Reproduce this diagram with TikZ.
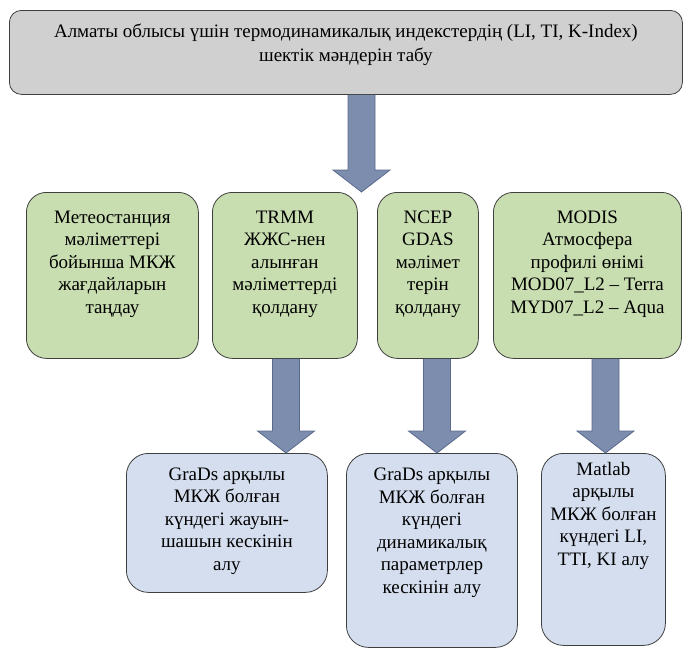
\documentclass[tikz,border=0pt]{standalone}
\usepackage{fontspec}
\setmainfont{Liberation Serif}
\usetikzlibrary{calc}
\definecolor{boxgray}{HTML}{D0D0D0}
\definecolor{boxgreen}{HTML}{C8DDB0}
\definecolor{boxblue}{HTML}{D4DEEF}
\definecolor{arrfill}{HTML}{7D8DAD}
\definecolor{arrline}{HTML}{5A6A8C}
\definecolor{edgecol}{HTML}{3F3F3F}
\newcommand\boxtext[4]{\parbox[t][#2pt][t]{#1pt}{\vspace*{#3pt}\centering\strut #4}}
\newcommand\blockarrow[3]{%
  \filldraw[blockarr] ($(#1|-#2)+(-13.5,0)$) -- ($(#1|-#3)+(-13.5,-22)$) -- ++(-15,0)
    -- (#1|-#3) -- ($(#1|-#3)+(28.5,-22)$) -- ++(-15,0) -- ($(#1|-#2)+(13.5,0)$);}
\tikzset{
  box/.style={draw=edgecol, line width=0.8pt, inner sep=0pt, anchor=north west,
              font=\fontsize{19}{22.5}\selectfont},
  graybox/.style={box, fill=boxgray, rounded corners=12pt},
  greenbox/.style={box, fill=boxgreen, rounded corners=20pt},
  bluebox/.style={box, fill=boxblue, rounded corners=22pt},
  blockarr/.style={fill=arrfill, draw=arrline, line width=0.8pt, line join=miter}
}
\begin{document}
\begin{tikzpicture}[x=1pt,y=-1pt]
\useasboundingbox (0,0) rectangle (683,648);
\node[graybox] (top) at (9,10) {\boxtext{673}{84}{11.25}{Алматы облысы үшін термодинамикалық индекстердің (LI, TI, K-Index)\\[2pt]шектік мәндерін табу}};
\node[greenbox] (g1) at (26,192) {\boxtext{172}{166}{15.25}{Метеостанция\\мәліметтері\\бойынша МКЖ\\жағдайларын\\таңдау}};
\node[greenbox] (g2) at (212,192) {\boxtext{145}{166}{15.25}{TRMM\\ЖЖС-нен\\алынған\\мәліметтерді\\қолдану}};
\node[greenbox] (g3) at (377,192) {\boxtext{101}{166}{15.25}{NCEP\\GDAS\\мәлімет\\терін\\қолдану}};
\node[greenbox] (g4) at (493,192) {\boxtext{188}{166}{15.25}{MODIS\\Атмосфера\\профилі өнімі\\MOD07\_L2 – Terra\\MYD07\_L2 – Aqua}};
\node[bluebox] (b1) at (126,453) {\boxtext{201}{139}{11.25}{GraDs арқылы\\МКЖ болған\\күндегі жауын-\\шашын кескінін\\алу}};
\node[bluebox] (b2) at (346,453) {\boxtext{171}{194}{11.75}{GraDs арқылы\\МКЖ болған\\күндегі\\динамикалық\\параметрлер\\кескінін алу}};
\node[bluebox] (b3) at (541,453) {\boxtext{124}{192}{6.25}{Matlab\\арқылы\\МКЖ болған\\күндегі LI,\\TTI, KI алу}};
\coordinate (a1) at (361.5,0);
\coordinate (a2) at (286,0);
\coordinate (a3) at (437,0);
\coordinate (a4) at (605.5,0);
\blockarrow{a1}{top.south}{g2.north}
\blockarrow{a2}{g2.south}{b1.north}
\blockarrow{a3}{g3.south}{b2.north}
\blockarrow{a4}{g4.south}{b3.north}
\end{tikzpicture}
\end{document}
